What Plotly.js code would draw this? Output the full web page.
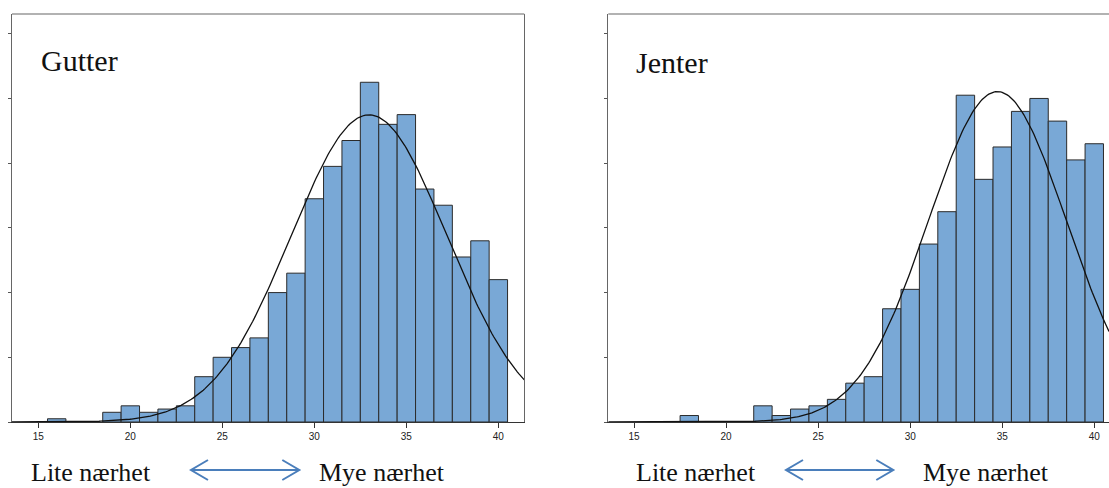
<!DOCTYPE html>
<html>
<head>
<meta charset="utf-8">
<script src="https://cdn.plot.ly/plotly-3.0.1.min.js"></script>
<style>
  html, body { margin: 0; padding: 0; background: #fff; overflow: hidden; }
  #chart { width: 1109px; height: 488px; }
</style>
</head>
<body>
<div id="chart"></div>
<script>
// ---- data ----
const boysScores  = [16, 19, 20, 21, 22, 23, 24, 25, 26, 27, 28, 29, 30, 31, 32, 33, 34, 35, 36, 37, 38, 39, 40];
const boysCounts  = [ 1,  3,  5,  3,  4,  5, 14, 20, 23, 26, 40, 46, 69, 79, 87, 105, 92, 95, 72, 67, 51, 56, 44];
const girlsScores = [18, 22, 23, 24, 25, 26, 27, 28, 29, 30, 31, 32, 33, 34, 35, 36, 37, 38, 39, 40];
const girlsCounts = [ 2,  5,  2,  4,  5,  7, 12, 14, 35, 41, 55, 65, 101, 75, 85, 96, 100, 93, 81, 86];
const panelTitles = ["Gutter", "Jenter"];
const lowLabel  = "Lite nærhet";
const highLabel = "Mye nærhet";
const xTickVals = [15, 20, 25, 30, 35, 40];

// ---- layout constants (pixels) ----
const W = 1109, H = 488;
const px = v => v / W;
const py = v => 1 - v / H;

// normal curve fitted to the histogram (as SPSS does)
function normalCurve(xs, ns, xmin, xmax) {
  let N = 0, s = 0;
  xs.forEach((x, i) => { N += ns[i]; s += x * ns[i]; });
  const mean = s / N;
  let ss = 0;
  xs.forEach((x, i) => { ss += ns[i] * (x - mean) * (x - mean); });
  const sd = Math.sqrt(ss / (N - 1));
  const cx = [], cy = [];
  const steps = 300;
  for (let k = 0; k <= steps; k++) {
    const x = xmin + (xmax - xmin) * k / steps;
    cx.push(x);
    cy.push(N / (sd * Math.sqrt(2 * Math.PI)) * Math.exp(-0.5 * ((x - mean) / sd) ** 2));
  }
  return { cx, cy };
}

const xRange1 = [13.57, 41.41];
const xRange2 = [13.60, 40.80];
const yRange = [0, 126.1];

const c1 = normalCurve(boysScores, boysCounts, xRange1[0], xRange1[1]);
const c2 = normalCurve(girlsScores, girlsCounts, xRange2[0], xRange2[1]);

const barColor = "#79a8d6";
const barLine = { color: "#2b2b2b", width: 1 };

const traces = [
  { type: "bar", x: boysScores, y: boysCounts, width: 1, xaxis: "x", yaxis: "y",
    marker: { color: barColor, line: barLine }, hoverinfo: "skip" },
  { type: "scatter", mode: "lines", x: c1.cx, y: c1.cy, xaxis: "x", yaxis: "y",
    line: { color: "#111", width: 1.3 }, hoverinfo: "skip" },
  { type: "bar", x: girlsScores, y: girlsCounts, width: 1, xaxis: "x2", yaxis: "y2",
    marker: { color: barColor, line: barLine }, hoverinfo: "skip" },
  { type: "scatter", mode: "lines", x: c2.cx, y: c2.cy, xaxis: "x2", yaxis: "y2",
    line: { color: "#111", width: 1.3 }, hoverinfo: "skip" }
];

const xaxisBase = {
  showgrid: false, zeroline: false, showline: true, linecolor: "#333", linewidth: 1,
  ticks: "outside", ticklen: 5, tickcolor: "#333", tickwidth: 1,
  tickmode: "array", tickvals: xTickVals,
  tickfont: { family: "Liberation Sans, Arial, sans-serif", size: 10, color: "#222" }
};
const yaxisBase = {
  range: yRange, showgrid: false, zeroline: false, showline: true, linecolor: "#666", linewidth: 1,
  ticks: "outside", ticklen: 3, tickcolor: "#555", dtick: 20, tick0: 0, showticklabels: false
};

const yDomain = [py(422), py(14)];

// arrows (decoration)
function arrowPath(x0, x1, y) {
  const hl = 17, hh = 10;
  const P = (x, yy) => px(x) + "," + py(yy);
  return "M" + P(x0, y) + " L" + P(x1, y) +
         " M" + P(x0 + hl, y - hh) + " L" + P(x0, y) + " L" + P(x0 + hl, y + hh) +
         " M" + P(x1 - hl, y - hh) + " L" + P(x1, y) + " L" + P(x1 - hl, y + hh);
}

const serif = "Liberation Serif, Times New Roman, serif";
const bottomY = py(472);

const layout = {
  width: W, height: H,
  margin: { l: 0, r: 0, t: 0, b: 0, pad: 0 },
  paper_bgcolor: "#fff", plot_bgcolor: "#fff",
  showlegend: false, bargap: 0,
  xaxis: Object.assign({}, xaxisBase, { domain: [px(12), px(524.3)], range: xRange1, anchor: "y" }),
  yaxis: Object.assign({}, yaxisBase, { domain: yDomain, anchor: "x", mirror: true }),
  xaxis2: Object.assign({}, xaxisBase, { domain: [px(608.3), 1], range: xRange2, anchor: "y2" }),
  yaxis2: Object.assign({}, yaxisBase, { domain: yDomain, anchor: "x2" }),
  shapes: [
    { type: "line", xref: "x domain", yref: "y domain", x0: 0, x1: 1, y0: 1, y1: 1,
      line: { color: "#999", width: 1.5 } },
    { type: "line", xref: "x2 domain", yref: "y2 domain", x0: 0, x1: 1, y0: 1, y1: 1,
      line: { color: "#999", width: 1.5 } },
    { type: "path", xref: "paper", yref: "paper", path: arrowPath(191, 299.3, 470),
      line: { color: "#4a7ebb", width: 2 } },
    { type: "path", xref: "paper", yref: "paper", path: arrowPath(786, 893.3, 470),
      line: { color: "#4a7ebb", width: 2 } }
  ],
  annotations: [
    { text: panelTitles[0], xref: "paper", yref: "paper", x: px(39), y: py(60),
      xanchor: "left", yanchor: "middle", showarrow: false,
      font: { family: serif, size: 30, color: "#111" } },
    { text: panelTitles[1], xref: "paper", yref: "paper", x: px(634), y: py(63),
      xanchor: "left", yanchor: "middle", showarrow: false,
      font: { family: serif, size: 30, color: "#111" } },
    { text: lowLabel, xref: "paper", yref: "paper", x: px(29), y: bottomY,
      xanchor: "left", yanchor: "middle", showarrow: false,
      font: { family: serif, size: 26, color: "#111" } },
    { text: highLabel, xref: "paper", yref: "paper", x: px(317), y: bottomY,
      xanchor: "left", yanchor: "middle", showarrow: false,
      font: { family: serif, size: 26, color: "#111" } },
    { text: lowLabel, xref: "paper", yref: "paper", x: px(634), y: bottomY,
      xanchor: "left", yanchor: "middle", showarrow: false,
      font: { family: serif, size: 26, color: "#111" } },
    { text: highLabel, xref: "paper", yref: "paper", x: px(921), y: bottomY,
      xanchor: "left", yanchor: "middle", showarrow: false,
      font: { family: serif, size: 26, color: "#111" } }
  ]
};

Plotly.newPlot("chart", traces, layout, { staticPlot: true, displayModeBar: false });
</script>
</body>
</html>
